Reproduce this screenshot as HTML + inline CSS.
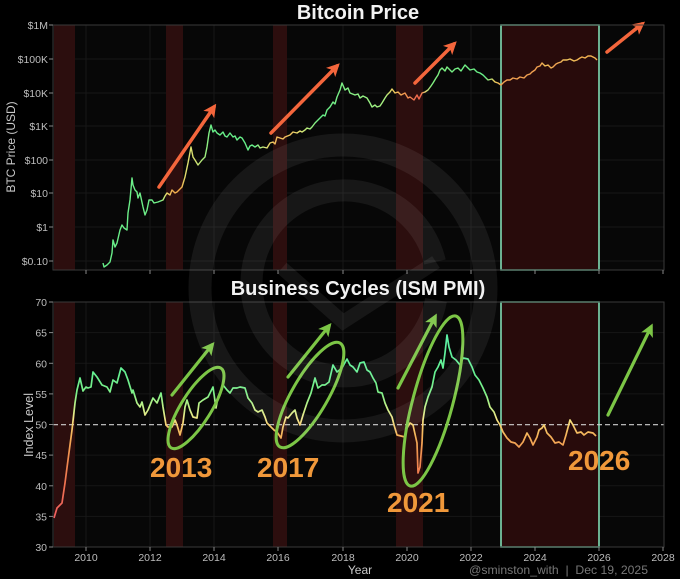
<!DOCTYPE html>
<html>
<head>
<meta charset="utf-8">
<style>
html,body{margin:0;padding:0;background:#000;}
svg{display:block;}
text{font-family:"Liberation Sans",Arial,sans-serif;}
</style>
</head>
<body>
<svg width="680" height="579" viewBox="0 0 680 579" xmlns="http://www.w3.org/2000/svg">
<defs>
  <linearGradient id="gbtc" gradientUnits="userSpaceOnUse" x1="53" y1="0" x2="664" y2="0">
    <stop offset="0.077" stop-color="#66ee88"/>
    <stop offset="0.175" stop-color="#70ee88"/>
    <stop offset="0.185" stop-color="#e8e070"/>
    <stop offset="0.195" stop-color="#f0b050"/>
    <stop offset="0.208" stop-color="#f0a848"/>
    <stop offset="0.218" stop-color="#e0e070"/>
    <stop offset="0.232" stop-color="#d8e070"/>
    <stop offset="0.249" stop-color="#a0f080"/>
    <stop offset="0.26" stop-color="#66ee88"/>
    <stop offset="0.33" stop-color="#66ee88"/>
    <stop offset="0.347" stop-color="#d8e478"/>
    <stop offset="0.363" stop-color="#f0b858"/>
    <stop offset="0.388" stop-color="#f0c060"/>
    <stop offset="0.404" stop-color="#e0e070"/>
    <stop offset="0.42" stop-color="#a8f080"/>
    <stop offset="0.437" stop-color="#66ee88"/>
    <stop offset="0.543" stop-color="#a8f080"/>
    <stop offset="0.556" stop-color="#f0d060"/>
    <stop offset="0.571" stop-color="#f0a050"/>
    <stop offset="0.592" stop-color="#f07050"/>
    <stop offset="0.601" stop-color="#f06048"/>
    <stop offset="0.609" stop-color="#e8d070"/>
    <stop offset="0.62" stop-color="#80f080"/>
    <stop offset="0.707" stop-color="#66ee88"/>
    <stop offset="0.723" stop-color="#f0d060"/>
    <stop offset="0.736" stop-color="#f0a050"/>
    <stop offset="0.797" stop-color="#f0a050"/>
    <stop offset="0.805" stop-color="#f0c058"/>
    <stop offset="0.822" stop-color="#f0a050"/>
    <stop offset="0.843" stop-color="#f0c860"/>
    <stop offset="0.863" stop-color="#f0b050"/>
    <stop offset="0.9" stop-color="#f0b050"/>
  </linearGradient>
  <linearGradient id="gpmi" gradientUnits="userSpaceOnUse" x1="0" y1="302" x2="0" y2="547">
    <stop offset="0.125" stop-color="#5af0a8"/>
    <stop offset="0.3" stop-color="#66f090"/>
    <stop offset="0.375" stop-color="#80f088"/>
    <stop offset="0.425" stop-color="#c0f088"/>
    <stop offset="0.475" stop-color="#f0e888"/>
    <stop offset="0.5" stop-color="#f5d070"/>
    <stop offset="0.55" stop-color="#f5b058"/>
    <stop offset="0.625" stop-color="#f09050"/>
    <stop offset="0.75" stop-color="#f07050"/>
    <stop offset="0.875" stop-color="#f06060"/>
  </linearGradient>
  <marker id="ao" viewBox="0 0 10 10" refX="7" refY="5" markerWidth="13" markerHeight="13" markerUnits="userSpaceOnUse" orient="auto">
    <path d="M0,0 L10,5 L0,10 L2.5,5 z" fill="#f4663c"/>
  </marker>
  <marker id="ag" viewBox="0 0 10 10" refX="7" refY="5" markerWidth="13" markerHeight="13" markerUnits="userSpaceOnUse" orient="auto">
    <path d="M0,0 L10,5 L0,10 L2.5,5 z" fill="#7cc646"/>
  </marker>
</defs>

<rect x="0" y="0" width="680" height="579" fill="#000"/>

<!-- ============ TOP PLOT ============ -->
<rect x="53" y="25" width="611" height="245" fill="#070707"/>
<g stroke="#171717" stroke-width="1">
  <line x1="53" y1="59" x2="664" y2="59"/><line x1="53" y1="93" x2="664" y2="93"/>
  <line x1="53" y1="126" x2="664" y2="126"/><line x1="53" y1="160" x2="664" y2="160"/>
  <line x1="53" y1="193" x2="664" y2="193"/><line x1="53" y1="227" x2="664" y2="227"/>
  <line x1="53" y1="261" x2="664" y2="261"/>
  <line x1="86" y1="25" x2="86" y2="270"/><line x1="150" y1="25" x2="150" y2="270"/>
  <line x1="214" y1="25" x2="214" y2="270"/><line x1="278" y1="25" x2="278" y2="270"/>
  <line x1="343" y1="25" x2="343" y2="270"/><line x1="407" y1="25" x2="407" y2="270"/>
  <line x1="471" y1="25" x2="471" y2="270"/><line x1="535" y1="25" x2="535" y2="270"/>
  <line x1="599" y1="25" x2="599" y2="270"/>
</g>
<g fill="#2c0e0e">
  <rect x="54" y="25" width="21" height="245"/>
  <rect x="166" y="25" width="17" height="245"/>
  <rect x="273" y="25" width="14" height="245"/>
  <rect x="396" y="25" width="27" height="245"/>
  <rect x="501" y="25" width="98" height="245" fill="#280b0b"/>
</g>
<rect x="501" y="25" width="98" height="245" fill="none" stroke="#80dcb4" stroke-width="1.6"/>

<polyline fill="none" stroke="url(#gbtc)" stroke-width="1.4" stroke-linejoin="round" points="103,263 104,267 107,265 110,262 112,253 113,240 115,247 117,243 120,230 122,225 124,228 127,230 128,213 130,200 132,178 133,185 135,190 137,192 138,198 140,193 143,207 145,215 147,210 149,200 152,200 154,203 158,202 163,200 165,196 167,193 170,195 172,190 175,193 177,192 180,189 182,187 185,177 188,163 191,147 193,157 195,160 198,165 202,160 205,157 207,147 209,133 211,125 213,132 215,130 217,133 220,135 223,132 225,136 227,137 230,133 233,137 235,136 237,140 240,137 242,138 245,143 248,150 250,146 252,145 255,147 258,145 260,148 263,147 267,148 270,143 273,142 275,144 277,137 280,138 283,139 285,137 290,135 293,132 297,133 300,131 302,132 305,130 307,128 310,129 312,127 315,123 318,120 320,118 323,115 325,116 327,110 330,107 333,102 335,104 337,97 340,90 342,83 345,90 348,88 350,93 355,95 358,94 360,98 363,96 367,98 370,103 372,107 375,105 377,107 380,106 382,103 385,98 387,95 390,92 392,89 395,93 398,92 401,95 405,93 408,98 410,97 414,100 417,95 419,99 422,93 425,92 428,90 431,86 433,83 436,78 438,75 440,70 442,68 445,71 447,67 450,70 452,72 455,69 458,68 461,71 465,65 468,68 470,70 474,69 477,72 480,73 483,75 486,78 488,80 492,79 495,82 498,83 501,85 504,82 507,80 510,80 513,78 517,79 520,77 524,78 527,75 530,74 532,72 535,70 537,67 540,66 542,63 545,66 548,65 551,68 553,67 556,64 558,63 561,62 563,60 567,60 570,59 574,61 577,60 580,58 582,57 585,58 588,56 591,56 593,57 595,58 597,60"/>

<g stroke="#f4663c" stroke-width="3.5" stroke-linecap="round" marker-end="url(#ao)">
  <line x1="159" y1="187" x2="214" y2="107"/>
  <line x1="271" y1="133" x2="337" y2="66"/>
  <line x1="415" y1="83" x2="454" y2="44"/>
  <line x1="607" y1="52" x2="642" y2="24"/>
</g>

<rect x="53" y="25" width="611" height="245" fill="none" stroke="#3a3a3a" stroke-width="1"/>
<g stroke="#888" stroke-width="1">
  <line x1="49" y1="25" x2="53" y2="25"/><line x1="49" y1="59" x2="53" y2="59"/>
  <line x1="49" y1="93" x2="53" y2="93"/><line x1="49" y1="126" x2="53" y2="126"/>
  <line x1="49" y1="160" x2="53" y2="160"/><line x1="49" y1="193" x2="53" y2="193"/>
  <line x1="49" y1="227" x2="53" y2="227"/><line x1="49" y1="261" x2="53" y2="261"/>
  <line x1="86" y1="270" x2="86" y2="274"/><line x1="150" y1="270" x2="150" y2="274"/>
  <line x1="214" y1="270" x2="214" y2="274"/><line x1="278" y1="270" x2="278" y2="274"/>
  <line x1="343" y1="270" x2="343" y2="274"/><line x1="407" y1="270" x2="407" y2="274"/>
  <line x1="471" y1="270" x2="471" y2="274"/><line x1="535" y1="270" x2="535" y2="274"/>
  <line x1="599" y1="270" x2="599" y2="274"/><line x1="663" y1="270" x2="663" y2="274"/>
</g>
<g fill="#bdbdbd" font-size="10.5" text-anchor="end">
  <text x="48" y="29">$1M</text>
  <text x="48" y="63">$100K</text>
  <text x="48" y="97">$10K</text>
  <text x="48" y="130">$1K</text>
  <text x="48" y="164">$100</text>
  <text x="48" y="197">$10</text>
  <text x="48" y="231">$1</text>
  <text x="48" y="265">$0.10</text>
</g>
<text transform="translate(15,147) rotate(-90)" text-anchor="middle" fill="#c8c8c8" font-size="12">BTC Price (USD)</text>

<!-- ============ BOTTOM PLOT ============ -->
<rect x="53" y="302" width="611" height="245" fill="#070707"/>
<g stroke="#171717" stroke-width="1">
  <line x1="53" y1="332.6" x2="664" y2="332.6"/><line x1="53" y1="363.3" x2="664" y2="363.3"/>
  <line x1="53" y1="393.9" x2="664" y2="393.9"/><line x1="53" y1="455.1" x2="664" y2="455.1"/>
  <line x1="53" y1="485.8" x2="664" y2="485.8"/><line x1="53" y1="516.4" x2="664" y2="516.4"/>
  <line x1="86" y1="302" x2="86" y2="547"/><line x1="150" y1="302" x2="150" y2="547"/>
  <line x1="214" y1="302" x2="214" y2="547"/><line x1="278" y1="302" x2="278" y2="547"/>
  <line x1="343" y1="302" x2="343" y2="547"/><line x1="407" y1="302" x2="407" y2="547"/>
  <line x1="471" y1="302" x2="471" y2="547"/><line x1="535" y1="302" x2="535" y2="547"/>
  <line x1="599" y1="302" x2="599" y2="547"/>
</g>
<g fill="#2c0e0e">
  <rect x="54" y="302" width="21" height="245"/>
  <rect x="166" y="302" width="17" height="245"/>
  <rect x="273" y="302" width="14" height="245"/>
  <rect x="396" y="302" width="27" height="245"/>
  <rect x="501" y="302" width="98" height="245" fill="#280b0b"/>
</g>
<rect x="501" y="302" width="98" height="245" fill="none" stroke="#80dcb4" stroke-width="1.6"/>

<line x1="53" y1="424.7" x2="664" y2="424.7" stroke="#d0d0d0" stroke-width="1.2" stroke-dasharray="5,3"/>

<polyline fill="none" stroke="url(#gpmi)" stroke-width="1.7" stroke-linejoin="round" points="54,518 57,508 62,503 65,483 68,460 72,430 75,403 77,390 80,378 83,391 86,387 88,388 91,387 93,372 97,377 102,385 107,387 110,392 113,380 117,383 121,368 125,372 128,380 132,393 133,390 137,403 140,407 142,402 145,415 148,410 153,398 157,403 161,393 163,407 166,425 168,427 172,427 175,420 177,425 180,435 183,423 185,407 187,400 190,410 193,417 197,418 199,403 203,400 208,397 213,387 216,408 218,397 223,385 227,390 230,393 233,388 237,388 240,387 245,388 248,398 252,403 255,410 258,412 262,410 265,417 267,423 271,427 274,430 277,432 281,438 283,427 286,417 288,418 292,413 295,410 297,418 300,425 303,415 307,403 311,393 315,378 318,388 322,385 325,385 329,382 333,365 337,372 342,368 347,359 350,365 353,367 357,372 360,363 364,362 367,370 370,372 373,378 376,383 378,392 382,393 385,403 388,410 392,417 394,425 397,435 401,436 405,437 407,428 410,423 413,425 417,443 418,473 420,467 422,443 423,420 425,407 428,397 432,387 435,372 438,367 441,360 443,368 445,353 447,335 449,347 452,357 456,360 460,365 463,358 468,359 472,367 475,375 479,380 483,388 487,397 490,407 494,412 497,420 500,425 503,432 507,438 511,442 515,443 519,447 523,442 527,433 530,438 533,445 537,437 539,430 542,428 544,425 547,433 551,437 555,443 559,442 563,445 566,435 570,420 573,425 577,433 581,432 584,435 588,432 593,433 596,436"/>

<g fill="none" stroke="#7cc646" stroke-width="3">
  <ellipse cx="196" cy="408" rx="47" ry="15" transform="rotate(-58 196 408)"/>
  <ellipse cx="310" cy="395" rx="60" ry="18" transform="rotate(-60 310 395)"/>
  <ellipse cx="433" cy="401" rx="88" ry="20" transform="rotate(-75 433 401)"/>
</g>
<g stroke="#7cc646" stroke-width="3.2" stroke-linecap="round" marker-end="url(#ag)">
  <line x1="172" y1="395" x2="212" y2="345"/>
  <line x1="288" y1="377" x2="329" y2="326"/>
  <line x1="398" y1="388" x2="435" y2="317"/>
  <line x1="608" y1="415" x2="651" y2="327"/>
</g>

<g fill="#f0983a" font-size="28" font-weight="bold">
  <text x="150" y="477">2013</text>
  <text x="257" y="477">2017</text>
  <text x="387" y="512">2021</text>
  <text x="568" y="470">2026</text>
</g>

<rect x="53" y="302" width="611" height="245" fill="none" stroke="#3a3a3a" stroke-width="1"/>
<g stroke="#888" stroke-width="1">
  <line x1="49" y1="302" x2="53" y2="302"/><line x1="49" y1="332.6" x2="53" y2="332.6"/>
  <line x1="49" y1="363.3" x2="53" y2="363.3"/><line x1="49" y1="393.9" x2="53" y2="393.9"/>
  <line x1="49" y1="424.5" x2="53" y2="424.5"/><line x1="49" y1="455.1" x2="53" y2="455.1"/>
  <line x1="49" y1="485.8" x2="53" y2="485.8"/><line x1="49" y1="516.4" x2="53" y2="516.4"/>
  <line x1="49" y1="547" x2="53" y2="547"/>
  <line x1="86" y1="547" x2="86" y2="551"/><line x1="150" y1="547" x2="150" y2="551"/>
  <line x1="214" y1="547" x2="214" y2="551"/><line x1="278" y1="547" x2="278" y2="551"/>
  <line x1="343" y1="547" x2="343" y2="551"/><line x1="407" y1="547" x2="407" y2="551"/>
  <line x1="471" y1="547" x2="471" y2="551"/><line x1="535" y1="547" x2="535" y2="551"/>
  <line x1="599" y1="547" x2="599" y2="551"/><line x1="663" y1="547" x2="663" y2="551"/>
</g>
<g fill="#bdbdbd" font-size="10.5" text-anchor="end">
  <text x="47" y="306">70</text>
  <text x="47" y="336.6">65</text>
  <text x="47" y="367.3">60</text>
  <text x="47" y="397.9">55</text>
  <text x="47" y="428.5">50</text>
  <text x="47" y="459.1">45</text>
  <text x="47" y="489.8">40</text>
  <text x="47" y="520.4">35</text>
  <text x="47" y="551">30</text>
</g>
<g fill="#bdbdbd" font-size="10.5" text-anchor="middle">
  <text x="86" y="561">2010</text>
  <text x="150" y="561">2012</text>
  <text x="214" y="561">2014</text>
  <text x="278" y="561">2016</text>
  <text x="343" y="561">2018</text>
  <text x="407" y="561">2020</text>
  <text x="471" y="561">2022</text>
  <text x="535" y="561">2024</text>
  <text x="599" y="561">2026</text>
  <text x="663" y="561">2028</text>
</g>
<text transform="translate(33,425) rotate(-90)" text-anchor="middle" fill="#c8c8c8" font-size="12.5">Index Level</text>
<text x="360" y="574" text-anchor="middle" fill="#c8c8c8" font-size="12">Year</text>
<text x="469" y="574" fill="#777" font-size="12" textLength="179" lengthAdjust="spacingAndGlyphs">@sminston_with&#160;&#160;|&#160;&#160;Dec 19, 2025</text>

<!-- watermark -->
<g fill="none" stroke="#ffffff" stroke-opacity="0.065">
  <circle cx="343" cy="288" r="143" stroke-width="23"/>
  <path d="M 435 262 A 93 93 0 1 0 436 300" stroke-width="22"/>
  <polyline points="282,268 343,322 436,262" stroke-width="14"/>
</g>

<!-- titles -->
<text x="358" y="19" text-anchor="middle" fill="#f2f2f2" font-size="20" font-weight="bold">Bitcoin Price</text>
<text x="358" y="295" text-anchor="middle" fill="#f2f2f2" font-size="20" font-weight="bold">Business Cycles (ISM PMI)</text>
</svg>
</body>
</html>
